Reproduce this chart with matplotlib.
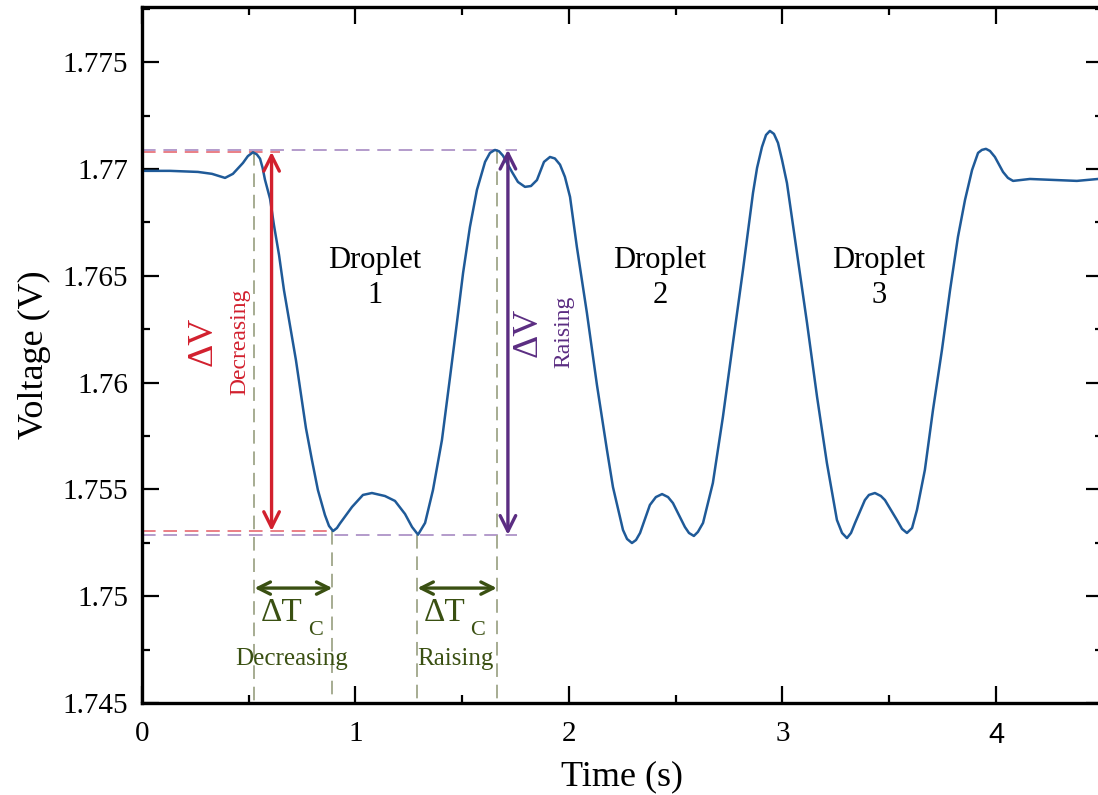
import matplotlib
matplotlib.use("Agg")
import matplotlib.pyplot as plt
from matplotlib.ticker import MultipleLocator

plt.rcParams['font.family'] = ['Liberation Serif', 'DejaVu Serif']

# trace (time in s, voltage in V)
time_s = [0.000, 0.131, 0.262, 0.328, 0.389, 0.426, 0.473, 0.496, 0.520, 0.538,
          0.553, 0.565, 0.576, 0.600, 0.618, 0.642, 0.665, 0.693, 0.721, 0.745,
          0.768, 0.796, 0.824, 0.857, 0.876, 0.895, 0.913, 0.927, 0.984, 1.035,
          1.077, 1.138, 1.185, 1.232, 1.265, 1.293, 1.326, 1.363, 1.405, 1.443,
          1.475, 1.504, 1.536, 1.569, 1.607, 1.630, 1.653, 1.672, 1.691, 1.733,
          1.761, 1.794, 1.822, 1.850, 1.883, 1.911, 1.934, 1.958, 1.981, 2.005,
          2.037, 2.084, 2.131, 2.178, 2.206, 2.253, 2.272, 2.295, 2.314, 2.333,
          2.379, 2.407, 2.436, 2.464, 2.487, 2.543, 2.562, 2.585, 2.604, 2.628,
          2.674, 2.721, 2.768, 2.815, 2.862, 2.881, 2.904, 2.923, 2.941, 2.960,
          2.979, 2.998, 3.021, 3.068, 3.115, 3.162, 3.208, 3.255, 3.279, 3.302,
          3.321, 3.340, 3.386, 3.405, 3.433, 3.461, 3.480, 3.536, 3.560, 3.583,
          3.607, 3.630, 3.667, 3.705, 3.747, 3.785, 3.822, 3.855, 3.888, 3.916,
          3.934, 3.953, 3.972, 3.995, 4.033, 4.056, 4.080, 4.159, 4.286, 4.379,
          4.478]
voltage = [1.76991, 1.76991, 1.76986, 1.76977, 1.76958, 1.76977, 1.77028, 1.77060, 1.77078, 1.77068,
           1.77048, 1.77005, 1.76950, 1.76860, 1.76738, 1.76597, 1.76433, 1.76270, 1.76106, 1.75942,
           1.75787, 1.75638, 1.75497, 1.75380, 1.75329, 1.75305, 1.75319, 1.75340, 1.75418, 1.75474,
           1.75483, 1.75469, 1.75446, 1.75385, 1.75324, 1.75288, 1.75343, 1.75497, 1.75731, 1.76026,
           1.76279, 1.76513, 1.76728, 1.76902, 1.77033, 1.77075, 1.77089, 1.77083, 1.77062, 1.76986,
           1.76939, 1.76916, 1.76920, 1.76948, 1.77033, 1.77056, 1.77049, 1.77020, 1.76963, 1.76869,
           1.76635, 1.76326, 1.75989, 1.75684, 1.75511, 1.75310, 1.75268, 1.75249, 1.75263, 1.75296,
           1.75427, 1.75464, 1.75478, 1.75464, 1.75436, 1.75324, 1.75296, 1.75282, 1.75301, 1.75343,
           1.75530, 1.75839, 1.76185, 1.76527, 1.76888, 1.77005, 1.77103, 1.77159, 1.77178, 1.77164,
           1.77122, 1.77042, 1.76934, 1.76607, 1.76279, 1.75933, 1.75624, 1.75357, 1.75296, 1.75272,
           1.75296, 1.75343, 1.75450, 1.75474, 1.75483, 1.75469, 1.75450, 1.75357, 1.75315, 1.75296,
           1.75319, 1.75404, 1.75591, 1.75872, 1.76153, 1.76433, 1.76682, 1.76855, 1.76995, 1.77075,
           1.77089, 1.77094, 1.77084, 1.77056, 1.76986, 1.76958, 1.76944, 1.76953, 1.76948, 1.76944,
           1.76953]

# annotation levels
dec_top, dec_bot = 1.77080, 1.75305
rai_top, rai_bot = 1.77090, 1.75287
dec_arrow_x, rai_arrow_x = 0.607, 1.714
tc_marks = [0.527, 0.892, 1.290, 1.662]
tc_arrow_y = 1.75038
droplet_x = [1.091, 2.426, 3.452]
droplet_names = ["Droplet\n1", "Droplet\n2", "Droplet\n3"]

xticks = [0, 1, 2, 3, 4]
yticks = [1.745, 1.75, 1.755, 1.76, 1.765, 1.77, 1.775]
ytick_labels = ["1.745", "1.75", "1.755", "1.76", "1.765", "1.77", "1.775"]

blue = "#1f5a98"
red = "#d2202e"
red_light = "#ea7f86"
purple = "#5b2d82"
purple_light = "#b39bcb"
green_dash = "#a6ac92"
green = "#3a5012"

fig = plt.figure(figsize=(10.98, 7.95), dpi=100)
ax = fig.add_axes([0.1293, 0.1157, 0.875, 0.8755])

# dashed guides
ax.plot([0, 0.646], [dec_top, dec_top], color=red_light, lw=1.4, ls=(0, (7, 4)), zorder=1)
ax.plot([0, 0.895], [dec_bot, dec_bot], color=red_light, lw=1.4, ls=(0, (7, 4)), zorder=1)
ax.plot([0, 1.756], [rai_top, rai_top], color=purple_light, lw=1.4, ls=(0, (7, 4)), zorder=1)
ax.plot([0, 1.756], [rai_bot, rai_bot], color=purple_light, lw=1.4, ls=(0, (7, 4)), zorder=1)
tc_tops = [dec_top, dec_bot, rai_bot, rai_top]
for xm, yt in zip(tc_marks, tc_tops):
    ax.plot([xm, xm], [yt, 1.745], color=green_dash, lw=1.4, ls=(0, (7, 4)), zorder=1)

ax.plot(time_s, voltage, color=blue, lw=1.8, zorder=2)

# vertical delta V arrows
ax.annotate('', xy=(dec_arrow_x, dec_top), xytext=(dec_arrow_x, dec_bot),
            arrowprops=dict(arrowstyle='<->', color=red, lw=2.4, mutation_scale=28,
                            shrinkA=0, shrinkB=0), zorder=3)
ax.annotate('', xy=(rai_arrow_x, rai_top), xytext=(rai_arrow_x, rai_bot),
            arrowprops=dict(arrowstyle='<->', color=purple, lw=2.4, mutation_scale=28,
                            shrinkA=0, shrinkB=0), zorder=3)

# horizontal delta T arrows
ax.annotate('', xy=(tc_marks[0], tc_arrow_y), xytext=(tc_marks[1], tc_arrow_y),
            arrowprops=dict(arrowstyle='<->', color=green, lw=2.4, mutation_scale=22,
                            shrinkA=0, shrinkB=0), zorder=3)
ax.annotate('', xy=(tc_marks[2], tc_arrow_y), xytext=(tc_marks[3], tc_arrow_y),
            arrowprops=dict(arrowstyle='<->', color=green, lw=2.4, mutation_scale=22,
                            shrinkA=0, shrinkB=0), zorder=3)

# labels
ax.text(0.286, 1.76195, "\u0394V", color=red, fontsize=26, rotation=90,
        ha='center', va='center')
ax.text(0.459, 1.76190, "Decreasing", color=red, fontsize=17, rotation=90,
        ha='center', va='center')
ax.text(1.808, 1.76237, "\u0394V", color=purple, fontsize=26, rotation=90,
        ha='center', va='center')
ax.text(1.977, 1.76237, "Raising", color=purple, fontsize=17, rotation=90,
        ha='center', va='center')

ax.text(0.656, 1.74921, "\u0394T", color=green, fontsize=24, ha='center', va='center')
ax.text(0.815, 1.74838, "C", color=green, fontsize=16, ha='center', va='center')
ax.text(0.703, 1.74708, "Decreasing", color=green, fontsize=18, ha='center', va='center')
ax.text(1.419, 1.74921, "\u0394T", color=green, fontsize=24, ha='center', va='center')
ax.text(1.574, 1.74838, "C", color=green, fontsize=16, ha='center', va='center')
ax.text(1.466, 1.74708, "Raising", color=green, fontsize=18, ha='center', va='center')

for xd, name in zip(droplet_x, droplet_names):
    ax.text(xd, 1.7649, name, fontsize=22, ha='center', va='center', linespacing=1.25)

ax.set_xlim(0, 4.5)
ax.set_ylim(1.745, 1.77758)
ax.set_xticks(xticks)
ax.set_yticks(yticks)
ax.set_yticklabels(ytick_labels)
ax.xaxis.set_minor_locator(MultipleLocator(0.5))
ax.yaxis.set_minor_locator(MultipleLocator(0.0025))
ax.tick_params(which='both', direction='in', top=True, right=True, width=1.6,
               labelsize=21)
ax.tick_params(axis='y', which='both', pad=10)
ax.tick_params(axis='x', which='both', pad=13)
ax.tick_params(which='major', length=12)
ax.tick_params(which='minor', length=6)
for sp in ax.spines.values():
    sp.set_linewidth(2.4)

xlabs = ax.get_xticklabels()
xlabs[-1].set_family('Liberation Sans')

ax.set_xlabel("Time (s)", fontsize=26, labelpad=8)
ax.set_ylabel("Voltage (V)", fontsize=26, labelpad=8)

fig.savefig("out.png", dpi=100)
